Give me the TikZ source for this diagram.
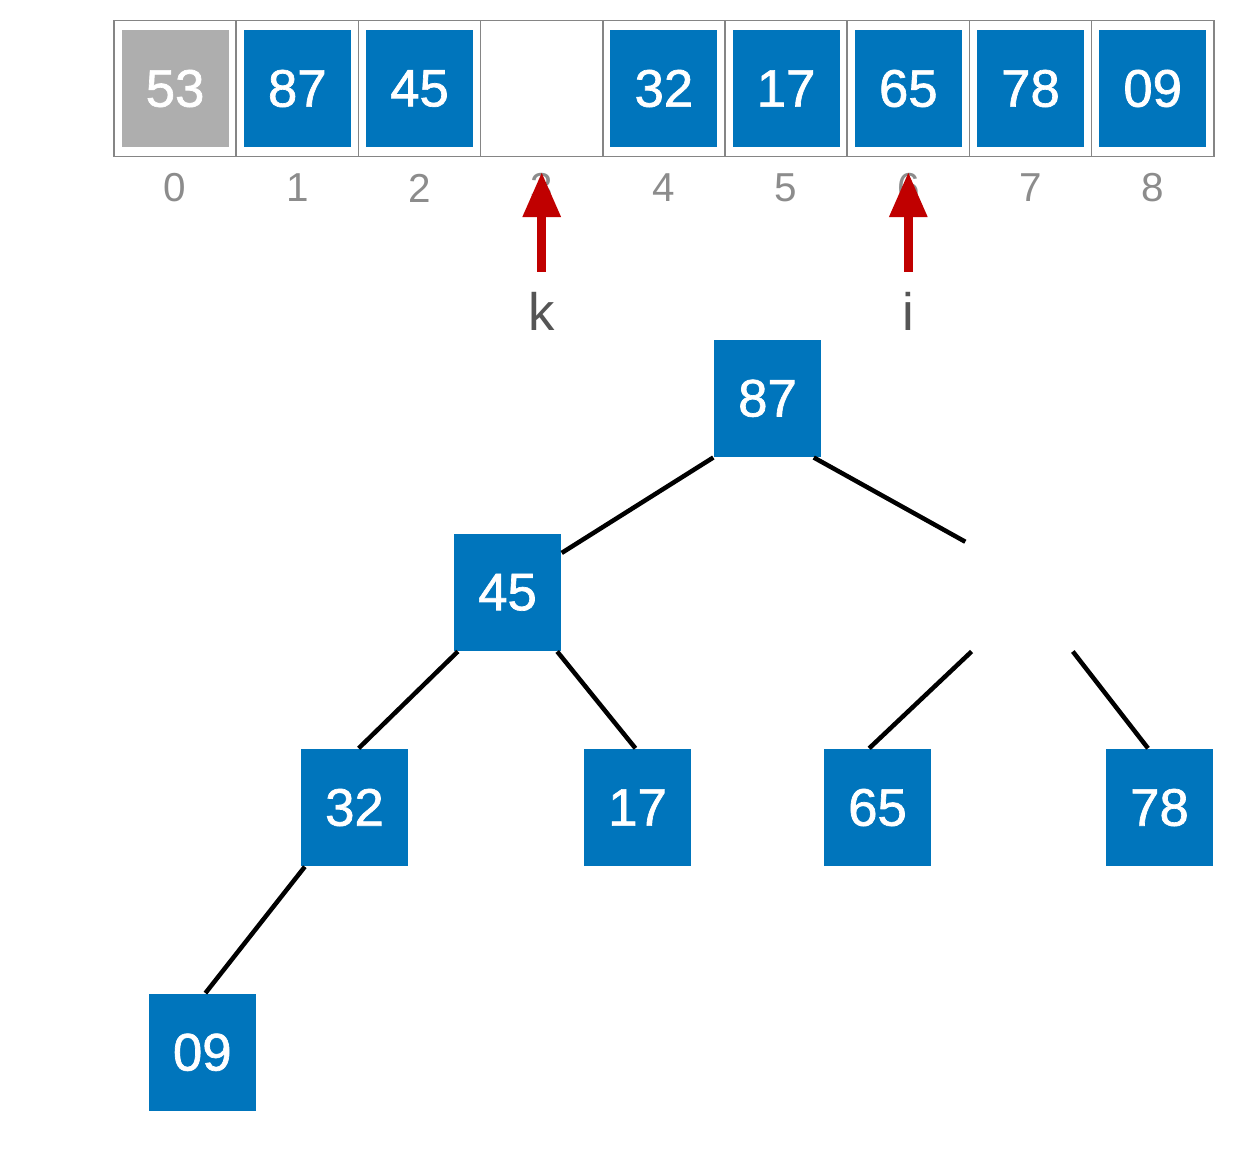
\documentclass[tikz,border=0pt]{standalone}
\usepackage{fontspec}
\setmainfont{Liberation Sans}
\newfontfamily\keyfont[FakeBold=1.3]{Liberation Sans}
\usetikzlibrary{arrows.meta}
\definecolor{heapblue}{HTML}{0075BC}
\definecolor{usedgray}{HTML}{AEAEAE}
\definecolor{framegray}{HTML}{858585}
\definecolor{idxgray}{HTML}{8C8C8C}
\definecolor{labelgray}{HTML}{555555}
\definecolor{ptrred}{HTML}{C00000}

\begin{document}
\begin{tikzpicture}[>={Triangle[length=0.45cm,width=0.36cm]}]
        \useasboundingbox (0,0) rectangle (12.42,11.48);

        \tikzstyle{cellframe}=[draw=framegray, line width=0.45pt, minimum width=1.222cm, minimum height=1.36cm, inner sep=0pt]
        \tikzstyle{keybox}=[fill=heapblue, text=white, minimum width=1.07cm, minimum height=1.17cm, inner sep=0pt, font=\keyfont\fontsize{15}{17}\selectfont]
        \tikzstyle{usedbox}=[keybox, fill=usedgray]
        \tikzstyle{holebox}=[minimum width=1.07cm, minimum height=1.17cm, inner sep=0pt]
        \tikzstyle{idx}=[text=idxgray, inner sep=0pt, font=\fontsize{11.5}{13}\selectfont]
        \tikzstyle{ptrlabel}=[text=labelgray, inner sep=0pt, outer ysep=0.2cm, font=\fontsize{15}{18}\selectfont]
        \tikzstyle{ptr}=[->, ptrred, line width=0.09cm]

        % array
        \foreach \i in {0,...,8} {
          \node (c\i) [cellframe] at (1.751+1.222*\i,10.595) {};
          \node (n\i) [idx] at (1.751+1.222*\i,9.60) {\i};
        }
        \node (a0) [usedbox] at (c0) {53};
        \foreach \i/\v in {1/87,2/45,4/32,5/17,6/65,7/78,8/09}  \node (a\i) [keybox] at (c\i) {\v};

        % k and i
        \node (kptr) [ptrlabel] at (5.417,8.37) {k};
        \node (iptr) [ptrlabel] at (9.083,8.37) {i};
        \coordinate (ktip) at (5.417,9.76);
        \coordinate (itip) at (9.083,9.76);
        \draw[ptr]  (kptr) -- (ktip); %
        \draw[ptr]  (iptr) -- (itip); %

        % heap
        \node (t87) [keybox] at (7.675,7.497) {87};
        \node (t45) [keybox] at (5.075,5.557) {45};
        \node (hole) [holebox] at (10.195,5.557) {};
        \node (t32) [keybox] at (3.545,3.405) {32};
        \node (t17) [keybox] at (6.375,3.405) {17};
        \node (t65) [keybox] at (8.775,3.405) {65};
        \node (t78) [keybox] at (11.595,3.405) {78};
        \node (t09) [keybox] at (2.023,0.957) {09};

        \begin{scope}[line width=0.045cm]
        \draw  (t87.south west) -- (t45.36); %
        \draw  (t87.-52) -- (hole.137); %
        \draw  (t45.-130) -- (t32.86); %
        \draw  (t45.-50) -- (t17.92); %
        \draw  (hole.-129) -- (t65.98); %
        \draw  (hole.-48) -- (t78.101); %
        \draw  (t32.-130) -- (t09.87); %
        \end{scope}
\end{tikzpicture}
\end{document}
